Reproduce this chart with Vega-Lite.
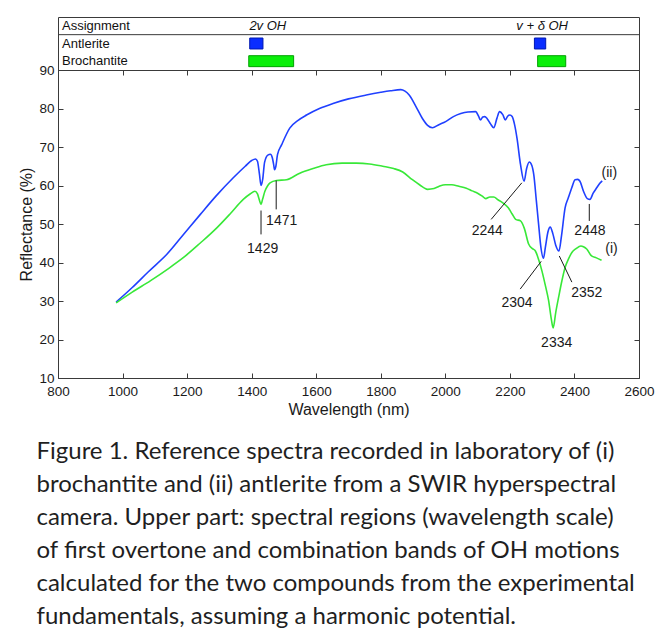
{
  "$schema": "https://vega.github.io/schema/vega-lite/v6.json",
  "background": "white",
  "padding": {"left": 18, "top": 16, "right": 0, "bottom": 0},
  "spacing": 0,
  "bounds": "flush",
  "config": {
    "font": "Liberation Sans",
    "view": {"stroke": "#3a3a3a", "strokeWidth": 1},
    "concat": {"spacing": 0},
    "axis": {"grid": false, "domain": false, "labelFont": "Liberation Sans", "titleFont": "Liberation Sans", "labelFontSize": 13.5, "titleFontSize": 16, "titleFontWeight": "normal", "labelColor": "#1a1a1a", "titleColor": "#1a1a1a", "tickColor": "#3a3a3a", "tickSize": -5, "format": "d"}
  },
  "datasets": {
    "spectra": [
      {"series": "antlerite", "wl": 980, "refl": 29.7}, {"series": "antlerite", "wl": 1030, "refl": 33.5}, {"series": "antlerite", "wl": 1080, "refl": 37.6}, {"series": "antlerite", "wl": 1138, "refl": 42.2}, {"series": "antlerite", "wl": 1190, "refl": 47.4}, {"series": "antlerite", "wl": 1241, "refl": 52.5}, {"series": "antlerite", "wl": 1290, "refl": 57.3}, {"series": "antlerite", "wl": 1343, "refl": 62.0}, {"series": "antlerite", "wl": 1380, "refl": 65.0}, {"series": "antlerite", "wl": 1400, "refl": 66.5}, {"series": "antlerite", "wl": 1412, "refl": 66.9}, {"series": "antlerite", "wl": 1418, "refl": 66.3}, {"series": "antlerite", "wl": 1424, "refl": 63.0}, {"series": "antlerite", "wl": 1429, "refl": 60.0}, {"series": "antlerite", "wl": 1434, "refl": 61.5}, {"series": "antlerite", "wl": 1440, "refl": 66.0}, {"series": "antlerite", "wl": 1450, "refl": 67.9}, {"series": "antlerite", "wl": 1458, "refl": 68.1}, {"series": "antlerite", "wl": 1464, "refl": 67.2}, {"series": "antlerite", "wl": 1468, "refl": 65.5}, {"series": "antlerite", "wl": 1471, "refl": 64.1}, {"series": "antlerite", "wl": 1475, "refl": 65.0}, {"series": "antlerite", "wl": 1480, "refl": 68.0}, {"series": "antlerite", "wl": 1493, "refl": 70.6}, {"series": "antlerite", "wl": 1518, "refl": 74.9}, {"series": "antlerite", "wl": 1545, "refl": 77.0}, {"series": "antlerite", "wl": 1570, "refl": 78.3}, {"series": "antlerite", "wl": 1610, "refl": 80.0}, {"series": "antlerite", "wl": 1652, "refl": 81.3}, {"series": "antlerite", "wl": 1700, "refl": 82.5}, {"series": "antlerite", "wl": 1755, "refl": 83.5}, {"series": "antlerite", "wl": 1800, "refl": 84.2}, {"series": "antlerite", "wl": 1830, "refl": 84.6}, {"series": "antlerite", "wl": 1862, "refl": 84.9}, {"series": "antlerite", "wl": 1875, "refl": 84.5}, {"series": "antlerite", "wl": 1888, "refl": 83.5}, {"series": "antlerite", "wl": 1909, "refl": 80.5}, {"series": "antlerite", "wl": 1929, "refl": 77.4}, {"series": "antlerite", "wl": 1945, "refl": 75.6}, {"series": "antlerite", "wl": 1960, "refl": 75.0}, {"series": "antlerite", "wl": 1980, "refl": 75.8}, {"series": "antlerite", "wl": 2001, "refl": 76.6}, {"series": "antlerite", "wl": 2025, "refl": 77.9}, {"series": "antlerite", "wl": 2048, "refl": 78.7}, {"series": "antlerite", "wl": 2070, "refl": 79.1}, {"series": "antlerite", "wl": 2094, "refl": 79.2}, {"series": "antlerite", "wl": 2103, "refl": 78.0}, {"series": "antlerite", "wl": 2109, "refl": 77.0}, {"series": "antlerite", "wl": 2116, "refl": 77.8}, {"series": "antlerite", "wl": 2122, "refl": 77.9}, {"series": "antlerite", "wl": 2130, "refl": 77.3}, {"series": "antlerite", "wl": 2140, "refl": 76.0}, {"series": "antlerite", "wl": 2150, "refl": 75.0}, {"series": "antlerite", "wl": 2160, "refl": 77.5}, {"series": "antlerite", "wl": 2168, "refl": 79.2}, {"series": "antlerite", "wl": 2178, "refl": 78.4}, {"series": "antlerite", "wl": 2186, "refl": 77.0}, {"series": "antlerite", "wl": 2193, "refl": 78.0}, {"series": "antlerite", "wl": 2200, "refl": 78.3}, {"series": "antlerite", "wl": 2207, "refl": 77.9}, {"series": "antlerite", "wl": 2214, "refl": 76.0}, {"series": "antlerite", "wl": 2222, "refl": 72.3}, {"series": "antlerite", "wl": 2233, "refl": 65.4}, {"series": "antlerite", "wl": 2244, "refl": 61.1}, {"series": "antlerite", "wl": 2252, "refl": 64.5}, {"series": "antlerite", "wl": 2260, "refl": 66.1}, {"series": "antlerite", "wl": 2268, "refl": 65.2}, {"series": "antlerite", "wl": 2274, "refl": 62.8}, {"series": "antlerite", "wl": 2282, "refl": 56.0}, {"series": "antlerite", "wl": 2289, "refl": 49.9}, {"series": "antlerite", "wl": 2296, "refl": 44.0}, {"series": "antlerite", "wl": 2304, "refl": 41.1}, {"series": "antlerite", "wl": 2310, "refl": 44.0}, {"series": "antlerite", "wl": 2318, "refl": 48.0}, {"series": "antlerite", "wl": 2325, "refl": 49.2}, {"series": "antlerite", "wl": 2333, "refl": 47.5}, {"series": "antlerite", "wl": 2342, "refl": 44.5}, {"series": "antlerite", "wl": 2352, "refl": 43.0}, {"series": "antlerite", "wl": 2360, "refl": 47.0}, {"series": "antlerite", "wl": 2371, "refl": 54.2}, {"series": "antlerite", "wl": 2381, "refl": 56.8}, {"series": "antlerite", "wl": 2392, "refl": 59.5}, {"series": "antlerite", "wl": 2402, "refl": 61.5}, {"series": "antlerite", "wl": 2410, "refl": 61.6}, {"series": "antlerite", "wl": 2417, "refl": 61.1}, {"series": "antlerite", "wl": 2428, "refl": 58.5}, {"series": "antlerite", "wl": 2440, "refl": 56.6}, {"series": "antlerite", "wl": 2448, "refl": 56.4}, {"series": "antlerite", "wl": 2458, "refl": 58.0}, {"series": "antlerite", "wl": 2469, "refl": 59.4}, {"series": "antlerite", "wl": 2478, "refl": 60.5}, {"series": "antlerite", "wl": 2486, "refl": 61.2},
      {"series": "brochantite", "wl": 980, "refl": 29.5}, {"series": "brochantite", "wl": 1030, "refl": 32.3}, {"series": "brochantite", "wl": 1087, "refl": 35.3}, {"series": "brochantite", "wl": 1140, "refl": 38.3}, {"series": "brochantite", "wl": 1189, "refl": 41.3}, {"series": "brochantite", "wl": 1240, "refl": 45.0}, {"series": "brochantite", "wl": 1292, "refl": 49.0}, {"series": "brochantite", "wl": 1335, "refl": 52.8}, {"series": "brochantite", "wl": 1374, "refl": 56.4}, {"series": "brochantite", "wl": 1395, "refl": 57.8}, {"series": "brochantite", "wl": 1410, "refl": 58.5}, {"series": "brochantite", "wl": 1418, "refl": 57.8}, {"series": "brochantite", "wl": 1424, "refl": 56.2}, {"series": "brochantite", "wl": 1429, "refl": 55.1}, {"series": "brochantite", "wl": 1434, "refl": 56.5}, {"series": "brochantite", "wl": 1441, "refl": 58.5}, {"series": "brochantite", "wl": 1450, "refl": 60.0}, {"series": "brochantite", "wl": 1457, "refl": 60.7}, {"series": "brochantite", "wl": 1477, "refl": 61.3}, {"series": "brochantite", "wl": 1508, "refl": 61.5}, {"series": "brochantite", "wl": 1549, "refl": 63.2}, {"series": "brochantite", "wl": 1590, "refl": 64.4}, {"series": "brochantite", "wl": 1631, "refl": 65.4}, {"series": "brochantite", "wl": 1680, "refl": 65.8}, {"series": "brochantite", "wl": 1724, "refl": 65.8}, {"series": "brochantite", "wl": 1765, "refl": 65.6}, {"series": "brochantite", "wl": 1806, "refl": 65.0}, {"series": "brochantite", "wl": 1840, "refl": 64.4}, {"series": "brochantite", "wl": 1868, "refl": 63.5}, {"series": "brochantite", "wl": 1898, "refl": 61.5}, {"series": "brochantite", "wl": 1920, "refl": 60.2}, {"series": "brochantite", "wl": 1945, "refl": 59.0}, {"series": "brochantite", "wl": 1965, "refl": 59.2}, {"series": "brochantite", "wl": 1981, "refl": 59.8}, {"series": "brochantite", "wl": 2000, "refl": 60.2}, {"series": "brochantite", "wl": 2020, "refl": 60.2}, {"series": "brochantite", "wl": 2042, "refl": 59.8}, {"series": "brochantite", "wl": 2065, "refl": 59.3}, {"series": "brochantite", "wl": 2083, "refl": 58.6}, {"series": "brochantite", "wl": 2100, "refl": 58.0}, {"series": "brochantite", "wl": 2115, "refl": 57.2}, {"series": "brochantite", "wl": 2125, "refl": 56.6}, {"series": "brochantite", "wl": 2138, "refl": 57.0}, {"series": "brochantite", "wl": 2150, "refl": 57.0}, {"series": "brochantite", "wl": 2163, "refl": 56.3}, {"series": "brochantite", "wl": 2178, "refl": 55.5}, {"series": "brochantite", "wl": 2195, "refl": 54.2}, {"series": "brochantite", "wl": 2207, "refl": 52.6}, {"series": "brochantite", "wl": 2218, "refl": 51.2}, {"series": "brochantite", "wl": 2233, "refl": 50.8}, {"series": "brochantite", "wl": 2245, "refl": 48.8}, {"series": "brochantite", "wl": 2258, "refl": 44.8}, {"series": "brochantite", "wl": 2270, "refl": 43.6}, {"series": "brochantite", "wl": 2279, "refl": 43.0}, {"series": "brochantite", "wl": 2290, "refl": 40.5}, {"series": "brochantite", "wl": 2299, "refl": 37.9}, {"series": "brochantite", "wl": 2310, "refl": 34.0}, {"series": "brochantite", "wl": 2320, "refl": 30.1}, {"series": "brochantite", "wl": 2328, "refl": 25.5}, {"series": "brochantite", "wl": 2334, "refl": 23.0}, {"series": "brochantite", "wl": 2342, "refl": 27.0}, {"series": "brochantite", "wl": 2351, "refl": 31.0}, {"series": "brochantite", "wl": 2361, "refl": 35.2}, {"series": "brochantite", "wl": 2371, "refl": 38.7}, {"series": "brochantite", "wl": 2382, "refl": 41.0}, {"series": "brochantite", "wl": 2392, "refl": 42.6}, {"series": "brochantite", "wl": 2405, "refl": 43.6}, {"series": "brochantite", "wl": 2420, "refl": 44.3}, {"series": "brochantite", "wl": 2428, "refl": 44.1}, {"series": "brochantite", "wl": 2438, "refl": 43.5}, {"series": "brochantite", "wl": 2453, "refl": 41.7}, {"series": "brochantite", "wl": 2468, "refl": 41.2}, {"series": "brochantite", "wl": 2484, "refl": 40.6}
    ],
    "leaders": [
      {"x1": 1429, "y1": 53.5, "x2": 1429, "y2": 47.3},
      {"x1": 1476, "y1": 61.3, "x2": 1476, "y2": 53.8},
      {"x1": 2237, "y1": 60.7, "x2": 2142, "y2": 51.2},
      {"x1": 2297, "y1": 40.3, "x2": 2232, "y2": 33.1},
      {"x1": 2353, "y1": 41.7, "x2": 2392, "y2": 34.9},
      {"x1": 2446, "y1": 55.2, "x2": 2446, "y2": 50.8}
    ],
    "labels": [
      {"label": "1429", "wl": 1434, "refl": 43.4},
      {"label": "1471", "wl": 1493, "refl": 50.8},
      {"label": "2244", "wl": 2130, "refl": 48.2},
      {"label": "2304", "wl": 2222, "refl": 29.4},
      {"label": "2352", "wl": 2438, "refl": 32.0},
      {"label": "2334", "wl": 2345, "refl": 19.0},
      {"label": "2448", "wl": 2448, "refl": 48.2},
      {"label": "(ii)", "wl": 2508, "refl": 63.2},
      {"label": "(i)", "wl": 2515, "refl": 43.5}
    ],
    "rows": [{"row": "Assignment"}, {"row": "Antlerite"}, {"row": "Brochantite"}],
    "bands": [
      {"row": "Assignment", "label": "2v OH", "wl": 1450},
      {"row": "Assignment", "label": "v + δ OH", "wl": 2300}
    ],
    "ranges": [
      {"compound": "Antlerite", "start": 1394, "end": 1435},
      {"compound": "Brochantite", "start": 1391, "end": 1530},
      {"compound": "Antlerite", "start": 2276, "end": 2311},
      {"compound": "Brochantite", "start": 2286, "end": 2373}
    ]
  },
  "title": {
    "text": ["Figure 1. Reference spectra recorded in laboratory of (i)", "brochantite and (ii) antlerite from a SWIR hyperspectral", "camera. Upper part: spectral regions (wavelength scale)", "of first overtone and combination bands of OH motions", "calculated for the two compounds from the experimental", "fundamentals, assuming a harmonic potential."],
    "orient": "bottom", "anchor": "start", "font": "Lato", "fontSize": 24, "fontWeight": "normal", "color": "#1f1f1f", "lineHeight": 33, "offset": 22, "dx": 18
  },
  "vconcat": [
    {
      "width": 581, "height": 53,
      "layer": [
        {
          "data": {"name": "rows"},
          "transform": [{"filter": "datum.row === 'Antlerite'"}],
          "mark": {"type": "rule", "color": "#3a3a3a", "strokeWidth": 1},
          "encoding": {"y": {"field": "row", "type": "nominal", "bandPosition": 0, "scale": {"domain": ["Assignment", "Antlerite", "Brochantite"], "paddingInner": 0, "paddingOuter": 0}, "axis": null}}
        },
        {
          "data": {"name": "rows"},
          "mark": {"type": "text", "align": "left", "baseline": "middle", "dx": 4, "fontSize": 13, "color": "#111"},
          "encoding": {
            "x": {"datum": 800, "type": "quantitative", "scale": {"domain": [800, 2600], "nice": false}, "axis": null},
            "y": {"field": "row", "type": "nominal", "axis": null},
            "text": {"field": "row"}
          }
        },
        {
          "data": {"name": "bands"},
          "mark": {"type": "text", "align": "center", "baseline": "middle", "fontSize": 13, "fontStyle": "italic", "color": "#111"},
          "encoding": {
            "x": {"field": "wl", "type": "quantitative", "axis": null},
            "y": {"field": "row", "type": "nominal", "axis": null},
            "text": {"field": "label"}
          }
        },
        {
          "data": {"name": "ranges"},
          "mark": {"type": "bar", "height": {"band": 0.62}, "strokeWidth": 1},
          "encoding": {
            "x": {"field": "start", "type": "quantitative", "axis": null},
            "x2": {"field": "end"},
            "y": {"field": "compound", "type": "nominal", "axis": null},
            "fill": {"field": "compound", "type": "nominal", "scale": {"domain": ["Antlerite", "Brochantite"], "range": ["#0a2dff", "#0aef0a"]}, "legend": null},
            "stroke": {"field": "compound", "type": "nominal", "scale": {"domain": ["Antlerite", "Brochantite"], "range": ["#0018b0", "#00a000"]}, "legend": null}
          }
        }
      ]
    },
    {
      "width": 581, "height": 308,
      "layer": [
        {
          "data": {"name": "spectra"},
          "mark": {"type": "line", "strokeWidth": 1.6, "interpolate": "monotone"},
          "encoding": {
            "x": {"field": "wl", "type": "quantitative", "scale": {"domain": [800, 2600], "nice": false},
                  "axis": {"orient": "bottom", "title": "Wavelength (nm)", "values": [800, 1000, 1200, 1400, 1600, 1800, 2000, 2200, 2400, 2600], "labelPadding": 11, "titlePadding": 4, "labelFlush": false}},
            "y": {"field": "refl", "type": "quantitative", "scale": {"domain": [10, 90], "nice": false},
                  "axis": {"orient": "left", "title": "Reflectance (%)", "values": [10, 20, 30, 40, 50, 60, 70, 80, 90], "labelPadding": 9, "titlePadding": 4, "labelFlush": false}},
            "color": {"field": "series", "type": "nominal", "scale": {"domain": ["antlerite", "brochantite"], "range": ["#2040ff", "#38e838"]}, "legend": null}
          }
        },
        {
          "data": {"name": "leaders"},
          "mark": {"type": "rule", "color": "#1a1a1a", "strokeWidth": 1},
          "encoding": {
            "x": {"field": "x1", "type": "quantitative", "axis": {"orient": "top", "labels": false, "title": null, "minExtent": 0, "maxExtent": 0, "labelPadding": 0, "values": [800, 1000, 1200, 1400, 1600, 1800, 2000, 2200, 2400, 2600]}},
            "y": {"field": "y1", "type": "quantitative", "axis": {"orient": "right", "labels": false, "title": null, "minExtent": 0, "maxExtent": 0, "labelPadding": 0, "values": [10, 20, 30, 40, 50, 60, 70, 80, 90]}},
            "x2": {"field": "x2"},
            "y2": {"field": "y2"}
          }
        },
        {
          "data": {"name": "labels"},
          "mark": {"type": "text", "fontSize": 14, "color": "#1a1a1a", "align": "center", "baseline": "middle"},
          "encoding": {
            "x": {"field": "wl", "type": "quantitative", "axis": null},
            "y": {"field": "refl", "type": "quantitative", "axis": null},
            "text": {"field": "label"}
          }
        }
      ],
      "resolve": {"axis": {"x": "independent", "y": "independent"}}
    }
  ]
}
